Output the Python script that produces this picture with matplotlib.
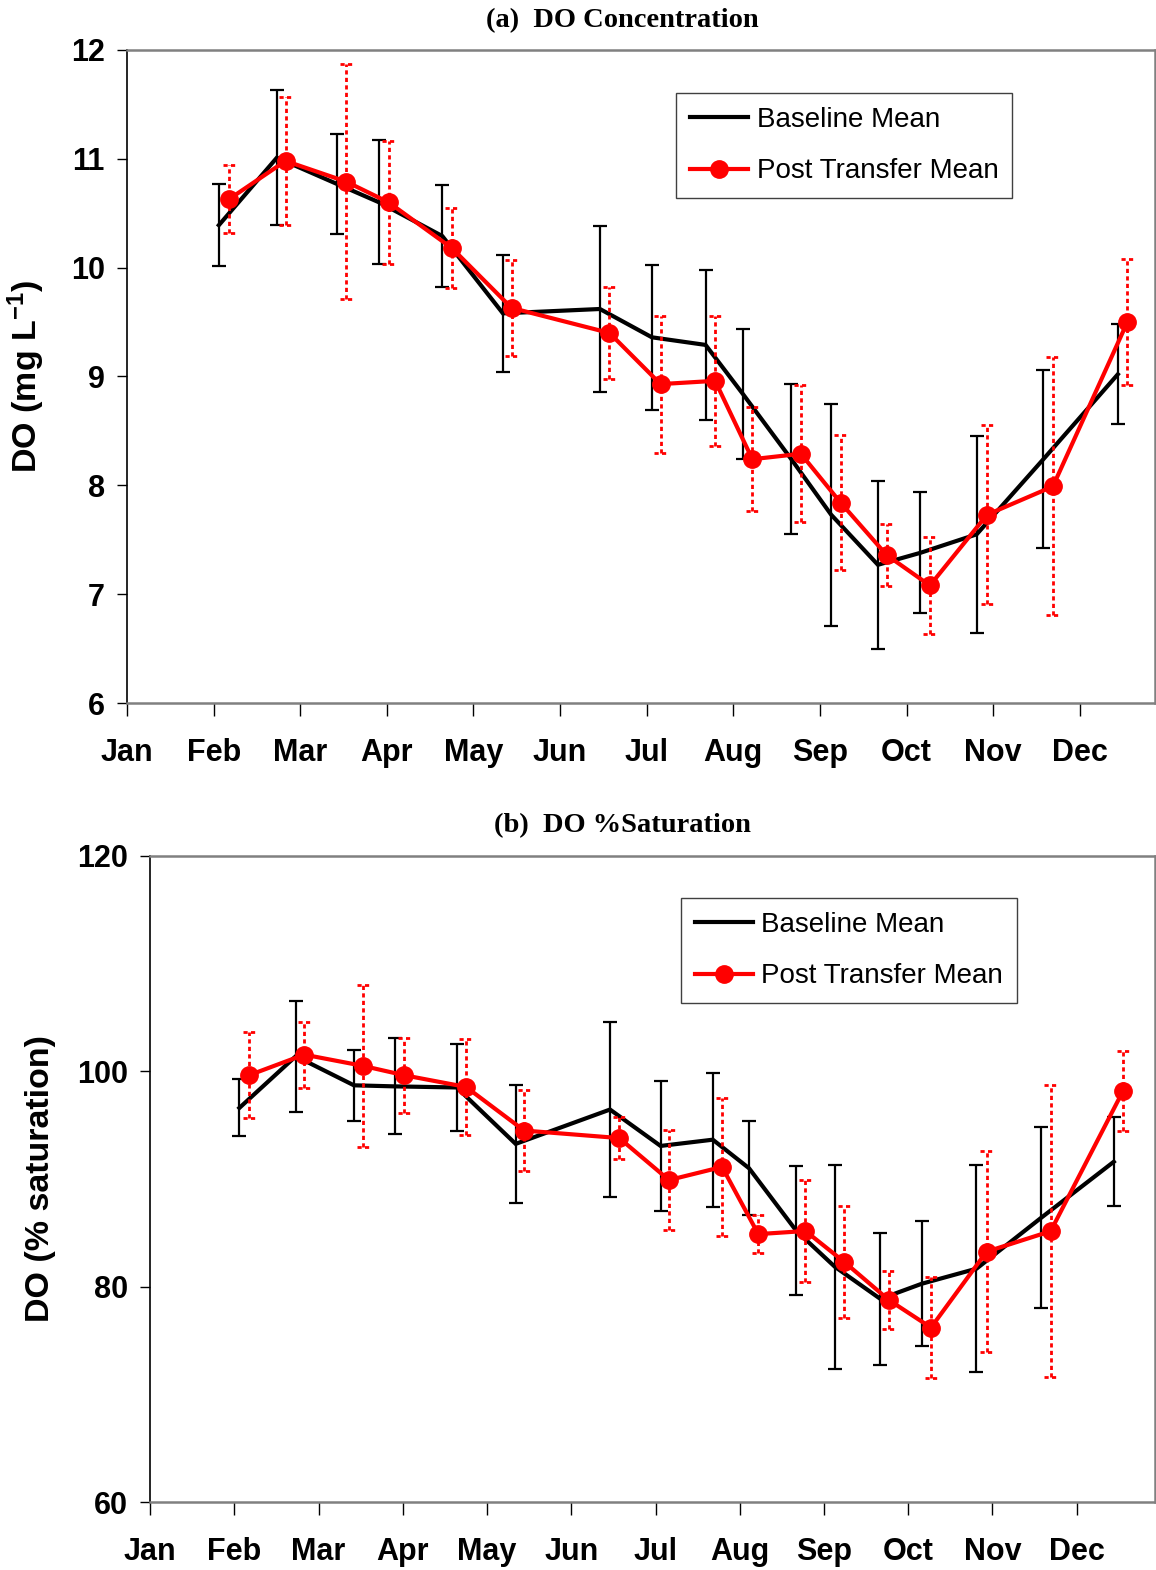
import matplotlib
matplotlib.use("Agg")
import matplotlib.pyplot as plt
import numpy as np

plt.rcParams['font.family'] = ['Liberation Sans', 'DejaVu Sans']
plt.rcParams['mathtext.fontset'] = 'custom'
plt.rcParams['mathtext.rm'] = 'Liberation Sans:bold'
plt.rcParams['mathtext.bf'] = 'Liberation Sans:bold'
plt.rcParams['mathtext.default'] = 'bf'

months = ['Jan', 'Feb', 'Mar', 'Apr', 'May', 'Jun', 'Jul', 'Aug', 'Sep', 'Oct', 'Nov', 'Dec']

# sampling positions (month units, Jan = 0)
base_x = [1.06, 1.73, 2.42, 2.91, 3.64, 4.34, 5.46, 6.06, 6.68, 7.11, 7.67, 8.13, 8.67, 9.16, 9.81, 10.58, 11.44]
post_x = [1.18, 1.83, 2.53, 3.02, 3.75, 4.44, 5.57, 6.16, 6.79, 7.22, 7.78, 8.24, 8.77, 9.27, 9.93, 10.69, 11.55]

# (a) DO concentration (mg/L)
do_base_mean = [10.39, 11.01, 10.77, 10.60, 10.29, 9.58, 9.62, 9.36, 9.29, 8.84, 8.24, 7.73, 7.27, 7.38, 7.55, 8.24, 9.02]
do_base_err = [0.375, 0.62, 0.46, 0.57, 0.47, 0.535, 0.765, 0.665, 0.69, 0.595, 0.69, 1.02, 0.77, 0.555, 0.905, 0.815, 0.46]
do_post_mean = [10.63, 10.98, 10.79, 10.60, 10.18, 9.63, 9.40, 8.93, 8.96, 8.24, 8.29, 7.84, 7.36, 7.08, 7.73, 7.99, 9.50]
do_post_err = [0.31, 0.59, 1.08, 0.565, 0.37, 0.44, 0.42, 0.63, 0.595, 0.48, 0.63, 0.62, 0.285, 0.445, 0.82, 1.185, 0.58]

# (b) DO % saturation
sat_base_mean = [96.6, 101.4, 98.7, 98.6, 98.5, 93.26, 96.45, 93.07, 93.65, 91.0, 85.2, 81.84, 78.86, 80.27, 81.67, 86.41, 91.6]
sat_base_err = [2.65, 5.15, 3.27, 4.46, 4.04, 5.49, 8.14, 6.07, 6.22, 4.34, 6.02, 9.49, 6.13, 5.8, 9.63, 8.42, 4.13]
sat_post_mean = [99.65, 101.55, 100.5, 99.63, 98.55, 94.5, 93.8, 89.9, 91.12, 84.88, 85.17, 82.3, 78.76, 76.2, 83.25, 85.15, 98.18]
sat_post_err = [4.0, 3.07, 7.5, 3.5, 4.47, 3.78, 1.95, 4.65, 6.39, 1.79, 4.73, 5.21, 2.68, 4.71, 9.35, 13.57, 3.72]

fig = plt.figure(figsize=(11.56, 15.70), dpi=100)
ax1 = fig.add_axes([0.1099, 0.5522, 0.8893, 0.4160])
ax2 = fig.add_axes([0.1298, 0.0433, 0.8694, 0.4115])

DOT = (0, (1.5, 1.2))


def draw(ax, bx, bm, be, px, pm, pe, ylim, yticks, ylabel, xmax, leg_anchor, cap_half):
    bx = np.array(bx); bm = np.array(bm); be = np.array(be)
    px = np.array(px); pm = np.array(pm); pe = np.array(pe)
    # baseline
    ax.errorbar(bx, bm, yerr=be, fmt='none', ecolor='black', elinewidth=1.6,
                capsize=5, capthick=1.6, zorder=2)
    ax.plot(bx, bm, color='black', lw=3.0, zorder=3, label='Baseline Mean', solid_joinstyle='miter')
    # post transfer error bars (dotted)
    ax.vlines(px, pm - pe, pm + pe, colors='red', linestyles=DOT, lw=2.0, zorder=4)
    for y in (pm - pe, pm + pe):
        ax.hlines(y, px - cap_half, px + cap_half, colors='red', linestyles=DOT, lw=2.0, zorder=4)
    ax.plot(px, pm, color='red', lw=3.0, marker='o', markersize=12.5, zorder=5,
            label='Post Transfer Mean')

    ax.set_xlim(0, xmax)
    ax.set_ylim(*ylim)
    ax.set_yticks(yticks)
    ax.set_yticklabels([str(t) for t in yticks], fontsize=22, fontweight='bold')
    ax.set_xticks(range(12))
    ax.set_xticklabels(months, fontsize=22, fontweight='bold')
    ax.tick_params(axis='x', direction='out', length=9, width=1.0, pad=16)
    ax.tick_params(axis='y', direction='out', length=7, width=1.0, pad=9)
    for s in ('top', 'right', 'bottom'):
        ax.spines[s].set_color('#808080')
        ax.spines[s].set_linewidth(1.8)
    ax.spines['left'].set_color('black')
    ax.spines['left'].set_linewidth(1.2)
    ax.set_ylabel(ylabel, fontsize=24.5, fontweight='bold')
    leg = ax.legend(loc='upper left', bbox_to_anchor=leg_anchor, fontsize=20, frameon=True,
                    fancybox=False, edgecolor='#404040', framealpha=1, borderpad=0.5,
                    labelspacing=0.92, handlelength=2.1, handletextpad=0.3, borderaxespad=0)
    leg.get_frame().set_linewidth(1.0)


draw(ax1, base_x, do_base_mean, do_base_err, post_x, do_post_mean, do_post_err,
     (6, 12), [6, 7, 8, 9, 10, 11, 12], r"DO (mg L$^{-1}$)",
     11.87, (0.534, 0.934), 0.075)
draw(ax2, base_x, sat_base_mean, sat_base_err, post_x, sat_post_mean, sat_post_err,
     (60, 120), [60, 80, 100, 120], "DO (% saturation)",
     11.93, (0.528, 0.935), 0.077)

ax1.yaxis.set_label_coords(-0.078, 0.5)
ax2.yaxis.set_label_coords(-0.094, 0.5)

fig.text(622 / 1156, 1 - 21 / 1570, "(a)  DO Concentration", ha='center', va='center',
         fontsize=20.5, fontweight='bold', family='Liberation Serif')
fig.text(622 / 1156, 1 - 826 / 1570, "(b)  DO %Saturation", ha='center', va='center',
         fontsize=20.5, fontweight='bold', family='Liberation Serif')

fig.savefig('out.png', dpi=100)
